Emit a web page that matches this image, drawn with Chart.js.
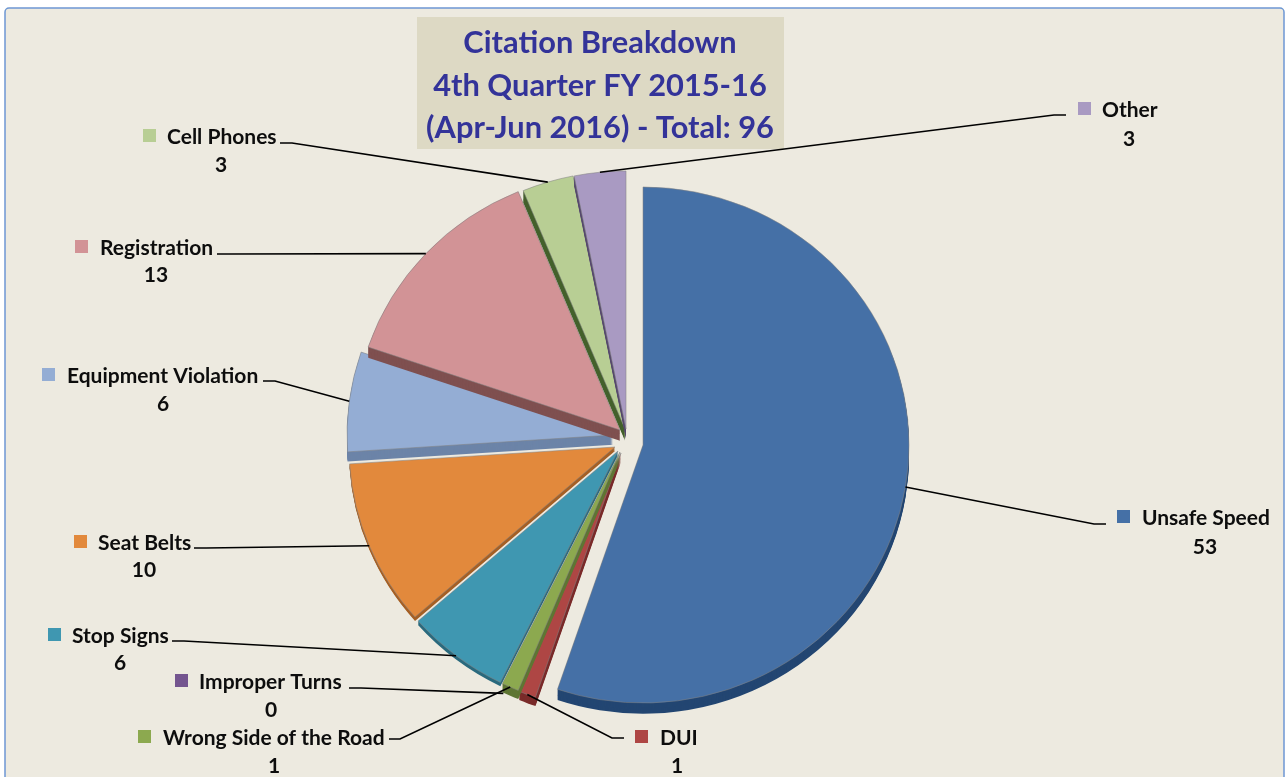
<!DOCTYPE html>
<html>
<head>
<meta charset="utf-8">
<title>Citation Breakdown</title>
<script src="https://cdn.jsdelivr.net/npm/chart.js@4"></script>
<style>
    html, body { margin: 0; padding: 0; background: #fff; overflow: hidden; }
    canvas { display: block; }
</style>
</head>
<body>
<canvas id="citationChart" width="1287" height="777"></canvas>
<script>
// Данные диаграммы
const categories = ['Unsafe Speed', 'DUI', 'Wrong Side of the Road', 'Improper Turns', 'Stop Signs', 'Seat Belts', 'Equipment Violation', 'Registration', 'Cell Phones', 'Other'];
const citationCounts = [53, 1, 1, 0, 6, 10, 6, 13, 3, 3];
const titleLines = ['Citation Breakdown', '4th Quarter FY 2015-16', '(Apr-Jun 2016) - Total: 96'];

// Стили секторов
const sliceColors = ['#4570a6', '#ae4644', '#8ca94f', '#74558f', '#3f97b1', '#e2893c', '#94add4', '#d29396', '#b8ce94', '#a99ac2'];
const wallColors = ['#234672', '#7a2b2a', '#5f7634', '#4d3762', '#2a6a7e', '#a55f24', '#6c84a8', '#7f5050', '#44602c', '#57496e'];
const wallDepths = [11, 9, 9, 0, 4, 4, 10, 11, 12, 10];
// Сдвиг секторов от центра пирога
const shiftX = [16, -6, -7, -6, -9, -12, -14, -7, -2, -1];
const shiftY = [8, 16, 15, 25, 14, 10, -2, -7, -8, -8];

// Расположение подписей: квадрат, текст, значение, начало выноски
const keyX = [1117, 635, 138, 175, 48, 74, 42, 75, 143, 1078];
const textX = [1142, 660, 163, 199, 72, 98, 67, 100, 167, 1102];
const textY = [525, 745, 745, 689, 643, 550, 383, 255, 144, 117];
const valueX = [1205, 677, 274, 271, 120, 144, 163, 156, 221, 1129];
const valueY = [554, 773, 773, 717, 670, 577, 411, 282, 172, 146];
const leaderX = [1106, 624, 389, 349, 172, 194, 263, 217, 280, 1066];
const leaderElbowX = [1094, 612, 400, 361, 184, 206, 275, 229, 292, 1054];
const leaderY = [524, 738, 739, 688, 641, 548, 381, 254, 143, 115];

const squash = 0.97; // пирог немного сплюснут по вертикали
const labelFont = 'bold 21px Lato, "Open Sans", sans-serif';
const titleFont = 'bold 30.8px Lato, "Open Sans", sans-serif';

// Наружная точка сектора по середине дуги, с учётом сдвига
function sliceEdge(arc, i) {
    const angle = (arc.startAngle + arc.endAngle) / 2;
    return {
        x: arc.x + shiftX[i] + Math.cos(angle) * arc.outerRadius,
        y: arc.y + shiftY[i] + Math.sin(angle) * arc.outerRadius * squash
    };
}

const backgroundPlugin = {
    id: 'panel',
    beforeDraw(chart) {
        const ctx = chart.ctx;
        ctx.save();
        ctx.fillStyle = '#edeae0';
        ctx.strokeStyle = '#6d97d3';
        ctx.lineWidth = 1.5;
        ctx.beginPath();
        ctx.roundRect(5, 8, 1279, 800, 4);
        ctx.fill();
        ctx.stroke();

        ctx.fillStyle = '#ddd9c4';
        ctx.fillRect(417, 17, 367, 132);
        ctx.fillStyle = '#333399';
        ctx.font = titleFont;
        ctx.textAlign = 'center';
        titleLines.forEach((line, i) => {
            ctx.fillText(line, 600, 53 + i * 42.5);
        });
        ctx.restore();
    }
};

// Сектора рисуем сами: сначала боковая стенка, затем верх
const slicesPlugin = {
    id: 'slices',
    beforeDatasetsDraw(chart) {
        const ctx = chart.ctx;
        const arcs = chart.getDatasetMeta(0).data;
        arcs.forEach((arc, i) => {
            ctx.save();
            ctx.translate(shiftX[i], arc.y + shiftY[i]);
            ctx.scale(1, squash);
            ctx.translate(0, -arc.y);
            const saved = arc.options;
            arc.options = { ...saved, backgroundColor: wallColors[i], borderWidth: 0 };
            for (let d = wallDepths[i]; d > 0; d--) {
                ctx.save();
                ctx.translate(0, d);
                arc.draw(ctx);
                ctx.restore();
            }
            arc.options = saved;
            arc.draw(ctx);
            ctx.restore();
        });
        return false;
    }
};

const labelsPlugin = {
    id: 'sliceLabels',
    afterDraw(chart) {
        const ctx = chart.ctx;
        const arcs = chart.getDatasetMeta(0).data;
        ctx.save();
        categories.forEach((name, i) => {
            const edge = sliceEdge(arcs[i], i);
            ctx.strokeStyle = '#000';
            ctx.lineWidth = 1.6;
            ctx.beginPath();
            ctx.moveTo(leaderX[i], leaderY[i]);
            ctx.lineTo(leaderElbowX[i], leaderY[i]);
            ctx.lineTo(edge.x, edge.y);
            ctx.stroke();

            ctx.fillStyle = sliceColors[i];
            ctx.fillRect(keyX[i], textY[i] - 15, 13, 13);

            ctx.fillStyle = '#0d0d0d';
            ctx.font = labelFont;
            ctx.textAlign = 'left';
            ctx.fillText(name, textX[i], textY[i]);
            ctx.textAlign = 'center';
            ctx.fillText(String(citationCounts[i]), valueX[i], valueY[i]);
        });
        ctx.restore();
    }
};

const ctx = document.getElementById('citationChart').getContext('2d');
const citationChart = new Chart(ctx, {
    type: 'pie',
    data: {
        labels: categories,
        datasets: [{
            data: citationCounts,
            backgroundColor: sliceColors,
            borderColor: 'rgba(130, 130, 130, 0.55)',
            borderWidth: 1,
            hoverOffset: 0
        }]
    },
    options: {
        responsive: false,
        animation: false,
        radius: 266,
        layout: { padding: { left: 0, right: 33, top: 97, bottom: 0 } },
        plugins: {
            legend: { display: false },
            title: { display: false },
            tooltip: { enabled: false }
        }
    },
    plugins: [backgroundPlugin, slicesPlugin, labelsPlugin]
});
</script>
</body>
</html>
